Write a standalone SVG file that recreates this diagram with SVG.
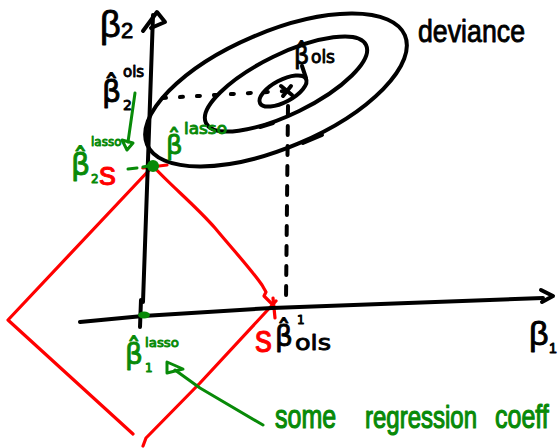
<svg xmlns="http://www.w3.org/2000/svg" width="558" height="448" viewBox="0 0 558 448">
<style>
.k{fill:none;stroke:#000;stroke-width:4;stroke-linecap:round;stroke-linejoin:round}
.r{fill:none;stroke:#f00;stroke-width:3.2;stroke-linecap:round;stroke-linejoin:round}
.g{fill:none;stroke:#088a08;stroke-width:3;stroke-linecap:round;stroke-linejoin:round}
text{font-family:"Liberation Sans",Arial,sans-serif;stroke-width:0.9;stroke-linejoin:round}
.h{font-family:"DejaVu Sans","Liberation Sans",sans-serif}
.tk{fill:#000;stroke:#000}
.tg{fill:#088a08;stroke:#088a08}
.tr{fill:#f00;stroke:#f00}
</style>
<rect width="558" height="448" fill="#fff"/>

<g id="constraint-region">
  <path class="r" d="M153,166 L8,320 L133,434"/>
  <path class="r" d="M143,168 L167,165"/>
  <path class="r" d="M153,166 C170,185 195,205 215,228 C235,252 250,268 262,285 L266,292 L264,296 L272,304"/>
  <path class="r" d="M276,301 L200,383 L146,438 L143,446"/>
  <path class="r" d="M273,298 L275,318"/>
</g>

<g id="axes">
  <path class="k" d="M153,15 L148,160 L143,302"/>
  <path class="k" d="M141,300 L140,327"/>
  <path class="k" d="M143,31 L157,12 L165,22 L151,28"/>
  <path class="k" d="M80,322 L143,316 L272,308 L543,298"/>
  <path class="k" d="M541,290 L553,296 L542,302"/>
</g>

<g id="deviance-contours">
  <ellipse class="k" cx="276" cy="90" rx="140" ry="58" transform="rotate(-23 276 90)"/>
  <path class="k" d="M303,143 L322,135"/>
  <ellipse class="k" cx="286" cy="84" rx="89" ry="30" transform="rotate(-26 286 84)"/>
  <path class="k" d="M260,127 L273,123"/>
  <ellipse class="k" cx="283" cy="91" rx="26" ry="11" transform="rotate(-28 283 91)"/>
  <path class="k" d="M306,78 L302,66"/>
  <path class="k" d="M281,86 L292,95 M291,86 L283,96"/>
</g>

<g id="connectors">
  <path class="k" d="M163,98 L285,91" stroke-dasharray="3 14" stroke-width="3.5"/>
  <path class="k" d="M288,106 L286,300" stroke-dasharray="9 11" stroke-width="3.5"/>
  <path class="g" d="M128,169 L137,168 M143,167 L148,166"/>
  <path class="g" d="M135,93 L128,142"/>
  <polygon class="g" points="122,140 133,143 127,150"/>
  <path class="g" d="M263,425 L200,388 L175,370"/>
  <polygon class="g" points="167,362 167,373 183,369"/>
</g>

<g id="points">
  <circle cx="153" cy="166" r="6" fill="#088a08"/>
  <ellipse cx="144" cy="315" rx="6" ry="3.5" fill="#088a08"/>
</g>

<g id="label-beta2">
  <text class="tk" x="100" y="37" font-size="36">β<tspan x="121" y="38" font-size="22">2</tspan></text>
</g>
<g id="label-beta2-ols">
  <text class="tk h" x="102" y="102" font-size="30">β̂<tspan x="123" y="77" font-size="15">ols</tspan><tspan x="123" y="110" font-size="14">2</tspan></text>
</g>
<g id="label-beta2-lasso">
  <text class="tg h" x="71" y="175" font-size="30">β̂<tspan x="91" y="146" font-size="12">lasso</tspan><tspan x="91" y="183" font-size="12">2</tspan></text>
</g>
<g id="label-s-top">
  <text class="tr" x="99" y="185" font-size="34" textLength="17" lengthAdjust="spacingAndGlyphs">s</text>
</g>
<g id="label-beta-lasso">
  <text class="tg h" x="166" y="154" font-size="26">β̂<tspan x="184" y="134" font-size="15" textLength="43" lengthAdjust="spacingAndGlyphs">lasso</tspan></text>
</g>
<g id="label-beta-ols">
  <text class="tk h" x="294" y="64" font-size="24">β̂<tspan x="311" y="63" font-size="17">ols</tspan></text>
</g>
<g id="label-deviance">
  <text class="tk" x="418" y="42" font-size="32" textLength="107" lengthAdjust="spacingAndGlyphs">deviance</text>
</g>
<g id="label-beta1-ols">
  <text class="tk h" x="275" y="346" font-size="28">β̂<tspan x="297" y="324" font-size="12">1</tspan><tspan x="295" y="350" font-size="22" textLength="36" lengthAdjust="spacingAndGlyphs">ols</tspan></text>
</g>
<g id="label-s-right">
  <text class="tr" x="255" y="352" font-size="38" textLength="17" lengthAdjust="spacingAndGlyphs">s</text>
</g>
<g id="label-beta1">
  <text class="tk" x="529" y="345" font-size="34">β<tspan x="549" y="353" font-size="14">1</tspan></text>
</g>
<g id="label-beta1-lasso">
  <text class="tg h" x="125" y="364" font-size="28">β̂<tspan x="145" y="347" font-size="13" textLength="34" lengthAdjust="spacingAndGlyphs">lasso</tspan><tspan x="145" y="372" font-size="12">1</tspan></text>
</g>
<g id="label-some-coefficients">
  <text class="tg" font-size="25" transform="translate(275 428) scale(1 1.3)">some</text>
  <text class="tg" font-size="24" transform="translate(365 428) scale(1 1.3)">regression</text>
  <text class="tg" font-size="25" transform="translate(495 428) scale(1 1.3)">coeff</text>
</g>
</svg>
